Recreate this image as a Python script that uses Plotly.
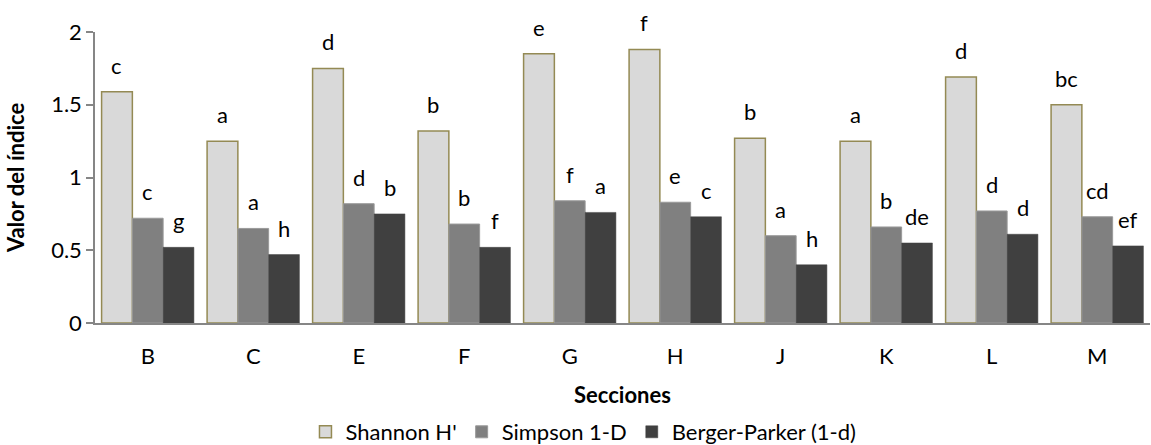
import plotly.graph_objects as go

secciones = ["B", "C", "E", "F", "G", "H", "J", "K", "L", "M"]
shannon = [1.59, 1.25, 1.75, 1.32, 1.85, 1.88, 1.27, 1.25, 1.69, 1.50]
simpson = [0.72, 0.65, 0.82, 0.68, 0.84, 0.83, 0.60, 0.66, 0.77, 0.73]
berger = [0.52, 0.47, 0.75, 0.52, 0.76, 0.73, 0.40, 0.55, 0.61, 0.53]

shannon_let = ["c", "a", "d", "b", "e", "f", "b", "a", "d", "bc"]
simpson_let = ["c", "a", "d", "b", "f", "e", "a", "b", "d", "cd"]
berger_let = ["g", "h", "b", "f", "a", "c", "h", "de", "d", "ef"]

FONT = "Lato"
FS = 22
AXIS_COL = "#868686"
BARGAP = 0.125

series = [
    ("Shannon H'", shannon, shannon_let, "#D9D9D9", "#948A54", 1.5),
    ("Simpson 1-D", simpson, simpson_let, "#808080", "#9A9A9A", 1),
    ("Berger-Parker (1-d)", berger, berger_let, "#404040", "#404040", 0.5),
]

fig = go.Figure()
for name, vals, _, fill, line, lw in series:
    fig.add_trace(go.Bar(
        name=name, x=secciones, y=vals,
        marker=dict(color=fill, line=dict(color=line, width=lw)),
    ))

bw = (1 - BARGAP) / len(series)
annotations = []
for k, (name, vals, lets, *_r) in enumerate(series):
    off = (k - (len(series) - 1) / 2) * bw
    for i, (v, t) in enumerate(zip(vals, lets)):
        annotations.append(dict(
            x=i + off, y=v, xref="x", yref="y", text=t, showarrow=False,
            yanchor="bottom", yshift=11,
            font=dict(family=FONT, size=FS, color="#000000"),
        ))

fig.update_layout(
    width=1151, height=445,
    margin=dict(l=95, r=1, t=32, b=122, autoexpand=False),
    paper_bgcolor="white", plot_bgcolor="white",
    font=dict(family=FONT, size=FS, color="#000000"),
    barmode="group", bargap=BARGAP, bargroupgap=0,
    annotations=annotations,
    showlegend=True,
    legend=dict(
        orientation="h", x=0.463, xanchor="center",
        y=-0.3746, yanchor="middle", font=dict(family=FONT, size=FS),
        traceorder="normal",
    ),
)
fig.update_xaxes(
    type="category", showline=True, linecolor=AXIS_COL, linewidth=1.5,
    ticks="", showgrid=False, ticklabelstandoff=13, automargin=False,
    title=dict(text="<b>Secciones</b>", standoff=19, font=dict(family=FONT, size=FS)),
)
fig.update_yaxes(
    range=[0, 2], dtick=0.5, showline=True, linecolor=AXIS_COL, linewidth=1.5,
    ticks="outside", ticklen=7, tickcolor=AXIS_COL, tickwidth=1.5,
    showgrid=False, zeroline=False, automargin=False,
    title=dict(text="<b>Valor del índice</b>", standoff=20, font=dict(family=FONT, size=FS)),
)

fig.write_html(
    "out.html",
    config={"displayModeBar": False},
    post_script="document.body.style.margin='0';",
)
